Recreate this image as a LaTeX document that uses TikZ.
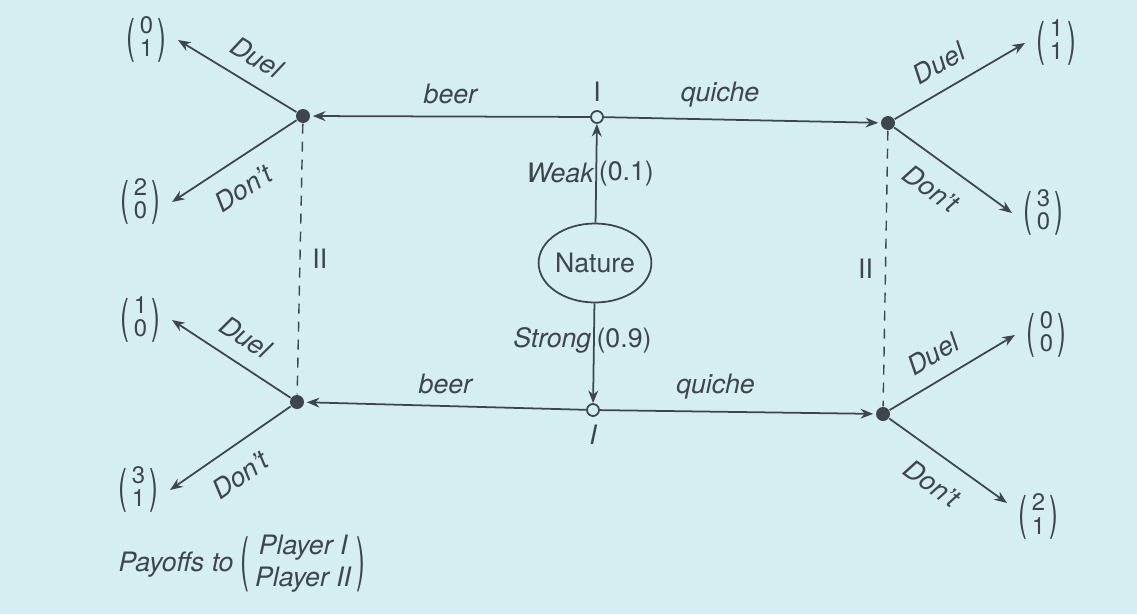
\documentclass[tikz,border=0pt]{standalone}
\usepackage{fontspec}
\usepackage{graphicx}
\setmainfont{TeX Gyre Heros}
\usetikzlibrary{arrows.meta,shapes.geometric,positioning}
\definecolor{paper}{HTML}{D5EEF2}
\definecolor{ink}{HTML}{3E454C}
\newcommand{\tallparen}[2]{\vcenter{\hbox{\upshape\scalebox{1}[#1]{#2}}}}
\newcommand{\payoff}[2]{$\tallparen{1.75}{(}\kern1.2pt\vcenter{\hbox{\fontsize{6.8}{6.4}\selectfont\begin{tabular}{@{}c@{}}#1\\#2\end{tabular}}}\kern1.2pt\tallparen{1.75}{)}$}
\newcommand{\players}[2]{$\tallparen{2.2}{(}\kern1.5pt\vcenter{\hbox{\begin{tabular}{@{}c@{}}#1\\#2\end{tabular}}}\kern1.5pt\tallparen{2.2}{)}$}
\tikzset{
  move/.style={draw=ink, line width=0.5pt, -{Stealth[length=3.6pt,width=2.8pt]}},
  decision/.style={circle, fill=ink, inner sep=0pt, minimum size=0.14cm},
  start/.style={circle, draw=ink, fill=paper, line width=0.5pt, inner sep=0pt, minimum size=0.12cm},
  infoset/.style={draw=ink, line width=0.4pt, dash pattern=on 0.1cm off 0.08cm},
  payoff/.style={inner xsep=1.1mm, inner ysep=0pt},
  lbl/.style={font=\fontsize{7.6}{9.2}\selectfont\itshape}
}

\begin{document}
\begin{tikzpicture}[font=\fontsize{7.6}{9.2}\selectfont, text=ink]
  \fill[paper] (0,0) rectangle (11.37,6.14);
  \useasboundingbox (0,0) rectangle (11.37,6.14);

  \node[ellipse, draw=ink, line width=0.5pt, minimum width=1.05cm, minimum height=0.79cm, inner sep=0pt] (nature) at (5.95,3.51) {Nature};
  \node[start] (weakI) at (5.97,4.97) {};
  \node[start] (strongI) at (5.93,2.04) {};
  \node[inner sep=0pt, above=0.08cm of weakI] (weakTag) {I};
  \node[lbl, inner sep=0pt, below=0.07cm of strongI] (strongTag) {I};

  \node[decision] (weakBeer) at (3.03,4.98) {};
  \node[decision] (weakQuiche) at (8.88,4.91) {};
  \node[decision] (strongBeer) at (2.97,2.12) {};
  \node[decision] (strongQuiche) at (8.83,2.00) {};

  \node[payoff, anchor=east] (wbDuel) at (1.78,5.74) {\payoff{0}{1}};
  \node[payoff, anchor=east] (wbDont) at (1.72,4.12) {\payoff{2}{0}};
  \node[payoff, anchor=east] (sbDuel) at (1.72,2.94) {\payoff{1}{0}};
  \node[payoff, anchor=east] (sbDont) at (1.70,1.24) {\payoff{3}{1}};
  \node[payoff, anchor=west] (wqDuel) at (10.25,5.71) {\payoff{1}{1}};
  \node[payoff, anchor=west] (wqDont) at (10.12,4.01) {\payoff{3}{0}};
  \node[payoff, anchor=west] (sqDuel) at (10.15,2.79) {\payoff{0}{0}};
  \node[payoff, anchor=155] (sqDont) at (10.07,1.11) {\payoff{2}{1}};

  \draw[move] (nature) -- node[lbl, left, inner xsep=0.5pt] (weakLbl) {Weak}
    node[right, inner xsep=0.5pt] (weakProb) {(0.1)} (weakI);
  \draw[move] (nature) -- node[lbl, left, inner xsep=0.5pt, pos=0.37] (strongLbl) {Strong}
    node[right, inner xsep=0.5pt, pos=0.37] (strongProb) {(0.9)} (strongI);

  \draw[move, shorten >=0.6pt] (weakI) -- node[lbl, above] (wbLbl) {beer} (weakBeer);
  \draw[move, shorten >=0.6pt] (weakI) -- node[lbl, above, pos=0.42] (wqLbl) {quiche} (weakQuiche);
  \draw[move, shorten >=0.6pt] (strongI) -- node[lbl, above] (sbLbl) {beer} (strongBeer);
  \draw[move, shorten >=0.6pt] (strongI) -- node[lbl, above, pos=0.42] (sqLbl) {quiche} (strongQuiche);

  \draw[infoset] (weakBeer) -- node[right] (beerSet) {II} (strongBeer);
  \draw[infoset] (weakQuiche) -- node[left] (quicheSet) {II} (strongQuiche);

  \draw[move] (weakBeer) -- node[lbl, sloped, above=1pt, pos=0.45] {Duel} (wbDuel.east);
  \draw[move] (weakBeer) -- node[lbl, sloped, below=1.5pt, pos=0.55] {Don't} (wbDont.east);
  \draw[move] (strongBeer) -- node[lbl, sloped, above=1pt, pos=0.5] {Duel} (sbDuel.east);
  \draw[move] (strongBeer) -- node[lbl, sloped, below=1.5pt, pos=0.55] {Don't} (sbDont.east);
  \draw[move] (weakQuiche) -- node[lbl, sloped, above=1pt, pos=0.44] {Duel} (wqDuel.west);
  \draw[move] (weakQuiche) -- node[lbl, sloped, below=1.5pt, pos=0.45] {Don't} (wqDont.west);
  \draw[move] (strongQuiche) -- node[lbl, sloped, above=1pt, pos=0.45] {Duel} (sqDuel.west);
  \draw[move] (strongQuiche) -- node[lbl, sloped, below=1.5pt, pos=0.5] {Don't} (sqDont.155);

  \node[lbl] (legend) at (2.42,0.5) {Payoffs to \players{Player I}{Player II}};
\end{tikzpicture}
\end{document}
